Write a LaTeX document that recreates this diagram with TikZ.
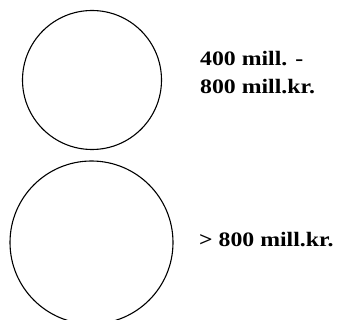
\documentclass[tikz,border=0pt]{standalone}
\usepackage{fontspec}
\setmainfont{Liberation Serif}
\newcommand{\widetxt}[1]{\scalebox{1.16}[1]{#1}}
\begin{document}
\begin{tikzpicture}[x=1pt,y=-1pt,
  ring/.style={circle,draw=black,line width=1.1pt,inner sep=0pt},
  lbl/.style={font=\bfseries\fontsize{20.5}{28}\selectfont,anchor=base west,inner sep=0pt}]
\useasboundingbox (0,0) rectangle (337,320);
\node[ring,minimum size=139pt] (c1) at (92,80) {};
\node[ring,minimum size=163pt] (c2) at (91.5,242.5) {};
\node[lbl] (t1) at (200,66) {\widetxt{400 mill. -}};
\node[lbl] (t2) at (200,94) {\widetxt{800 mill.kr.}};
\node[lbl] (t3) at (199,247) {\widetxt{> 800 mill.kr.}};
\end{tikzpicture}
\end{document}
